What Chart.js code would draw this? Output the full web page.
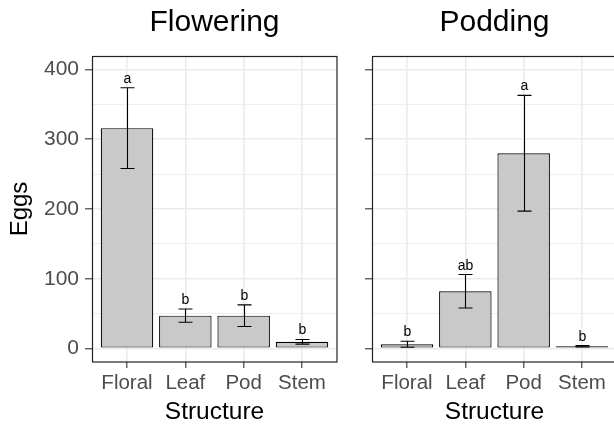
<!DOCTYPE html>
<html>
<head>
<meta charset="utf-8">
<title>Eggs by structure</title>
<script src="https://cdn.jsdelivr.net/npm/chart.js@4.4.0/dist/chart.umd.min.js"></script>
<style>
  html, body { margin: 0; padding: 0; background: #fff; }
  body { width: 614px; height: 424px; overflow: hidden; position: relative; }
  canvas { position: absolute; top: 0; }
  #flowering { left: 0; }
  #podding { left: 340px; }
</style>
</head>
<body>
<canvas id="flowering" width="340" height="424"></canvas>
<canvas id="podding" width="280" height="424"></canvas>
<script>
var structures = ['Floral', 'Leaf', 'Pod', 'Stem'];
var yTicks = [0, 100, 200, 300, 400];
var yMinorTicks = [50, 150, 250, 350];

var floweringMean = [316, 47, 47, 9.5];
var floweringSE = [58, 9.5, 15.5, 3.3];
var floweringLetters = ['a', 'b', 'b', 'b'];

var poddingMean = [6, 82, 280, 3];
var poddingSE = [4.3, 24, 83, 1];
var poddingLetters = ['b', 'ab', 'a', 'b'];

var FONT = "'Liberation Sans', Arial, Helvetica, sans-serif";

// error bars, significance letters and the panel border
var panelExtras = {
    id: 'panelExtras',
    afterDatasetsDraw: function(chart, args, opts) {
        var ctx = chart.ctx;
        var xs = chart.scales.x, ys = chart.scales.y;
        ctx.save();
        ctx.strokeStyle = '#000';
        ctx.lineWidth = 1.1;
        ctx.fillStyle = '#000';
        ctx.font = '14px ' + FONT;
        ctx.textAlign = 'center';
        ctx.textBaseline = 'alphabetic';
        opts.means.forEach(function(m, i) {
            var px = Math.round(xs.getPixelForValue(i + 1)) + 0.5;
            var top = ys.getPixelForValue(m + opts.errs[i]);
            var bot = ys.getPixelForValue(Math.max(m - opts.errs[i], 0));
            ctx.beginPath();
            ctx.moveTo(px, top); ctx.lineTo(px, bot);
            ctx.moveTo(px - 7, top); ctx.lineTo(px + 7, top);
            ctx.moveTo(px - 7, bot); ctx.lineTo(px + 7, bot);
            ctx.stroke();
            ctx.fillText(opts.letters[i], px, top - 5);
        });
        var a = chart.chartArea;
        var l = Math.round(a.left) + 0.5, t = Math.round(a.top) + 0.5;
        ctx.strokeStyle = '#222';
        ctx.lineWidth = 1.2;
        ctx.strokeRect(l, t, Math.round(a.right) - l, Math.round(a.bottom) - t);
        ctx.restore();
    }
};

function buildPanel(canvasId, title, means, errs, letters, showY, yWidth) {
    var allTicks = yTicks.concat(yMinorTicks).sort(function(a, b) { return a - b; });
    var isMajor = function(c) { return c.tick && yTicks.indexOf(c.tick.value) >= 0; };

    return new Chart(document.getElementById(canvasId), {
        type: 'bar',
        data: {
            datasets: [{
                data: structures.map(function(s, i) { return { x: i + 1, y: means[i] }; }),
                backgroundColor: '#c9c9c9',
                borderColor: '#000',
                borderWidth: 1.2,
                borderSkipped: false,
                barPercentage: 0.9,
                categoryPercentage: 1.0
            }]
        },
        options: {
            responsive: false,
            animation: false,
            layout: { padding: { left: 0, right: 3, top: 0, bottom: 0 } },
            plugins: {
                legend: { display: false },
                tooltip: { enabled: false },
                title: {
                    display: true,
                    text: title,
                    fullSize: false,
                    color: '#000',
                    font: { family: FONT, size: 30, weight: 'normal', lineHeight: 1.2 },
                    padding: { top: 5, bottom: 15 }
                },
                panelExtras: { means: means, errs: errs, letters: letters }
            },
            scales: {
                x: {
                    type: 'linear',
                    min: 0.4,
                    max: 4.6,
                    offset: false,
                    afterBuildTicks: function(s) {
                        s.ticks = structures.map(function(c, i) { return { value: i + 1 }; });
                    },
                    afterFit: function(s) { s.height = 62; },
                    border: { display: false },
                    grid: { offset: false, color: '#ebebeb', lineWidth: 1.6, tickLength: 6, tickColor: '#333', tickWidth: 1.1 },
                    ticks: {
                        autoSkip: false, maxRotation: 0, padding: 3, color: '#4d4d4d',
                        font: { family: FONT, size: 20.5 },
                        callback: function(v) { return structures[v - 1]; }
                    },
                    title: {
                        display: true, text: 'Structure', color: '#000',
                        font: { family: FONT, size: 24.5, lineHeight: 1 },
                        padding: 0
                    }
                },
                y: {
                    min: -19.5,
                    max: 419.5,
                    afterBuildTicks: function(s) {
                        s.ticks = allTicks.map(function(v) { return { value: v }; });
                    },
                    afterFit: function(s) { s.width = yWidth; },
                    border: { display: false },
                    grid: {
                        color: '#ebebeb',
                        lineWidth: function(c) { return isMajor(c) ? 1.6 : 0.8; },
                        tickLength: 7,
                        tickColor: function(c) { return isMajor(c) ? '#333' : 'rgba(0,0,0,0)'; },
                        tickWidth: 1.1
                    },
                    ticks: {
                        autoSkip: false, padding: 6, color: '#4d4d4d',
                        font: { family: FONT, size: 21 },
                        callback: function(v) { return showY && yTicks.indexOf(v) >= 0 ? v : ''; }
                    },
                    title: {
                        display: showY, text: 'Eggs', color: '#000',
                        font: { family: FONT, size: 24, lineHeight: 1 },
                        padding: { top: 8, bottom: 0 }
                    }
                }
            }
        },
        plugins: [panelExtras]
    });
}

buildPanel('flowering', 'Flowering', floweringMean, floweringSE, floweringLetters, true, 92);
buildPanel('podding', 'Podding', poddingMean, poddingSE, poddingLetters, false, 32);
</script>
</body>
</html>
